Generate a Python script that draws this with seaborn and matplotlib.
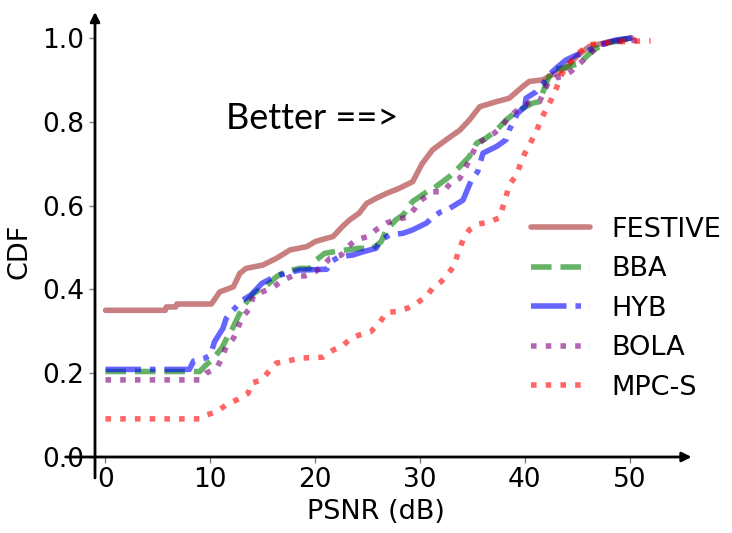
import numpy as np
import matplotlib
matplotlib.use("Agg")
import matplotlib.pyplot as plt
import pandas as pd
import seaborn as sns

# PSNR (dB) / CDF points
festive_x = [0, 5.7, 5.8, 6.7, 6.8, 10.1, 10.9, 12.2, 12.8, 13.4, 15.0, 16.3, 17.6, 19.2, 20.0, 21.1, 21.7,
             22.6, 23.3, 24.2, 24.9, 25.8, 26.8, 28.0, 29.3, 30.2, 31.2, 32.5, 33.8, 34.7, 35.7, 37.3, 38.5,
             39.8, 40.4, 41.7, 42.6, 43.9, 44.9, 46.1, 47.7, 50.2]
festive_y = [0.35, 0.35, 0.358, 0.358, 0.365, 0.365, 0.394, 0.406, 0.438, 0.45, 0.458, 0.474, 0.494, 0.502,
             0.514, 0.522, 0.526, 0.55, 0.566, 0.582, 0.605, 0.617, 0.629, 0.641, 0.657, 0.70, 0.733, 0.757,
             0.78, 0.804, 0.836, 0.848, 0.856, 0.884, 0.896, 0.90, 0.912, 0.928, 0.955, 0.979, 0.989, 1.0]

bba_x = [0, 9.0, 9.6, 10.1, 11.1, 11.5, 12.2, 13.1, 14.1, 15.4, 16.3, 17.1, 18.5, 19.5, 20.1, 20.9, 22.3,
         24.2, 25.5, 26.3, 26.8, 27.7, 28.4, 29.3, 30.9, 31.5, 32.8, 33.8, 34.7, 35.4, 36.3, 37.3, 38.2,
         39.2, 40.7, 41.4, 42.0, 42.6, 43.9, 45.2, 46.5, 47.7, 50.3]
bba_y = [0.204, 0.204, 0.22, 0.23, 0.26, 0.28, 0.311, 0.359, 0.39, 0.41, 0.43, 0.442, 0.45, 0.45, 0.47,
         0.486, 0.492, 0.498, 0.498, 0.514, 0.542, 0.566, 0.578, 0.61, 0.637, 0.645, 0.669, 0.693, 0.717,
         0.749, 0.761, 0.78, 0.804, 0.824, 0.844, 0.848, 0.89, 0.924, 0.93, 0.939, 0.971, 0.987, 1.0]

hyb_x = [0, 8.0, 8.4, 9.5, 10.0, 10.4, 10.7, 11.2, 11.5, 11.9, 13.0, 13.9, 14.9, 15.8, 16.6, 18.5, 21.1,
         21.5, 22.3, 23.6, 24.6, 25.8, 26.3, 27.1, 28.4, 29.3, 30.6, 31.2, 31.9, 32.8, 34.1, 34.9, 35.5,
         36.0, 37.3, 38.2, 38.5, 39.3, 40.0, 40.1, 41.1, 41.7, 42.3, 43.0, 43.9, 44.9, 45.8, 47.1, 48.7, 50.2]
hyb_y = [0.209, 0.209, 0.229, 0.236, 0.243, 0.275, 0.287, 0.307, 0.33, 0.343, 0.373, 0.387, 0.414, 0.426,
         0.434, 0.446, 0.448, 0.466, 0.478, 0.482, 0.49, 0.498, 0.518, 0.53, 0.534, 0.542, 0.558, 0.572,
         0.584, 0.593, 0.613, 0.661, 0.681, 0.725, 0.741, 0.757, 0.78, 0.82, 0.836, 0.856, 0.872, 0.888,
         0.912, 0.928, 0.947, 0.959, 0.967, 0.983, 0.995, 1.0]

bola_x = [0, 9.0, 9.6, 10.6, 11.1, 11.5, 12.2, 12.6, 13.1, 13.8, 14.1, 16.0, 16.8, 17.8, 19.0, 20.0, 20.8,
          21.4, 22.5, 23.1, 23.9, 25.0, 25.8, 26.8, 27.7, 28.8, 29.5, 30.1, 31.2, 32.2, 32.9, 33.8, 34.4,
          35.4, 36.3, 37.1, 37.9, 38.5, 39.3, 40.3, 41.4, 42.2, 43.0, 43.6, 44.4, 45.4, 46.1, 47.1, 48.7, 50.9]
bola_y = [0.184, 0.184, 0.2, 0.212, 0.236, 0.263, 0.283, 0.307, 0.335, 0.355, 0.385, 0.405, 0.42, 0.432,
          0.432, 0.442, 0.458, 0.474, 0.482, 0.502, 0.518, 0.526, 0.542, 0.558, 0.567, 0.572, 0.593, 0.613,
          0.633, 0.633, 0.653, 0.665, 0.693, 0.745, 0.761, 0.773, 0.792, 0.812, 0.828, 0.844, 0.848, 0.892,
          0.905, 0.908, 0.92, 0.943, 0.959, 0.983, 0.991, 0.995]

mpc_x = [0, 9.0, 9.6, 10.6, 11.5, 12.5, 13.6, 13.9, 14.9, 15.7, 16.3, 17.4, 18.5, 20.7, 21.7, 22.6, 23.4,
         24.2, 25.3, 26.1, 26.8, 27.7, 28.8, 29.6, 30.6, 31.2, 32.0, 32.7, 33.3, 33.6, 34.1, 34.7, 35.6,
         36.6, 37.6, 37.9, 38.2, 38.5, 39.2, 39.6, 40.0, 40.6, 41.1, 41.5, 42.0, 42.5, 43.0, 43.4, 43.9,
         44.9, 46.0, 47.1, 48.7, 52.0]
mpc_y = [0.091, 0.091, 0.10, 0.108, 0.124, 0.136, 0.152, 0.176, 0.184, 0.208, 0.224, 0.229, 0.236, 0.238,
         0.255, 0.265, 0.283, 0.291, 0.299, 0.319, 0.345, 0.347, 0.355, 0.366, 0.383, 0.403, 0.418, 0.438,
         0.458, 0.486, 0.518, 0.542, 0.556, 0.561, 0.571, 0.597, 0.621, 0.649, 0.673, 0.701, 0.725, 0.753,
         0.776, 0.804, 0.828, 0.852, 0.88, 0.908, 0.93, 0.959, 0.983, 0.987, 0.991, 0.993]

series = [
    ("FESTIVE", festive_x, festive_y, "brown", "-"),
    ("BBA", bba_x, bba_y, "green", "--"),
    ("HYB", hyb_x, hyb_y, "blue", "-."),
    ("BOLA", bola_x, bola_y, "purple", ":"),
    ("MPC-S", mpc_x, mpc_y, "red", ":"),
]

sns.set_style("white")
plt.rcParams["text.color"] = "black"
plt.rcParams["axes.labelcolor"] = "black"
plt.rcParams["xtick.color"] = "black"
plt.rcParams["ytick.color"] = "black"

fig = plt.figure(figsize=(7.32, 5.33), dpi=100)
ax = fig.add_axes([0.1298, 0.1426, 0.815, 0.835])

for name, xs, ys, col, ls in series:
    sns.lineplot(x=xs, y=ys, ax=ax, color=col, linestyle=ls, lw=4, alpha=0.6,
                 label=name, sort=False, estimator=None)

ax.set_xlim(-1, 55.9)
ax.set_ylim(0, 1.062)
ax.set_xticks([0, 10, 20, 30, 40, 50])
ax.set_yticks([0.0, 0.2, 0.4, 0.6, 0.8, 1.0])
ax.tick_params(axis="both", labelsize=19, color="gray", labelcolor="black", length=4, width=1,
               bottom=True, left=True)
ax.set_xlabel("PSNR (dB)", fontsize=19.5, color="black")
ax.set_ylabel("CDF", fontsize=19.5, color="black")
ax.xaxis.set_label_coords(0.4715, -0.095)
ax.yaxis.set_label_coords(-0.105, 0.463)
for s in ax.spines.values():
    s.set_visible(False)

# axis arrows
arr = dict(arrowstyle="-|>", color="black", lw=2, mutation_scale=14, shrinkA=0, shrinkB=0)
ax.annotate("", xy=(55.9, 0), xytext=(-3.8, 0), arrowprops=arr, annotation_clip=False)
ax.annotate("", xy=(-1, 1.062), xytext=(-1, -0.05), arrowprops=arr, annotation_clip=False)

ax.text(19.7, 0.807, "Better ==>", fontsize=26, family="Lato", ha="center", va="center", color="black")

leg = ax.legend(loc="center left", bbox_to_anchor=(0.712, 0.333), frameon=False, fontsize=19.5,
                handlelength=2.2, borderaxespad=0, labelspacing=0.5)
for t in leg.get_texts():
    t.set_color("black")

fig.savefig("out.png", dpi=100)
